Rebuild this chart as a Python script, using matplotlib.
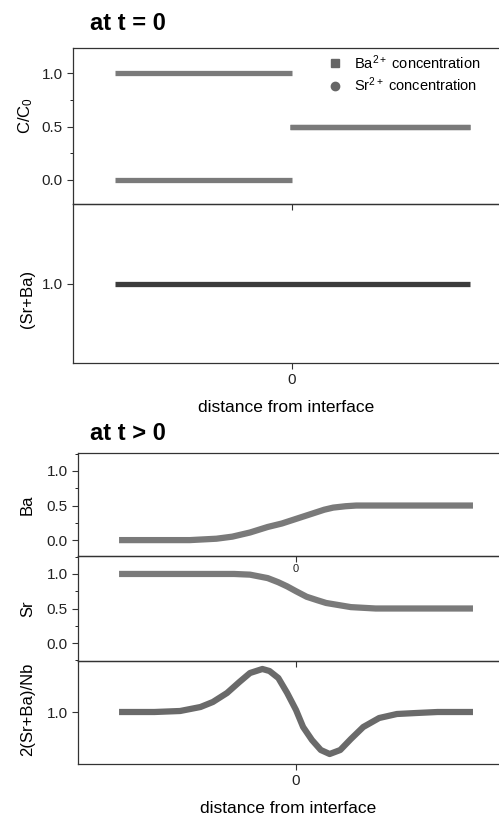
import matplotlib
matplotlib.use("Agg")
import matplotlib.pyplot as plt
from matplotlib.lines import Line2D
from matplotlib.ticker import MultipleLocator

plt.rcParams['font.family'] = ['Liberation Sans', 'DejaVu Sans']
plt.rcParams['mathtext.fontset'] = 'custom'
plt.rcParams['mathtext.rm'] = 'Liberation Sans'
plt.rcParams['mathtext.it'] = 'Liberation Sans:italic'

# at t = 0 : step profiles
x_left = [-1.0, 0.0]
x_right = [-0.01, 1.0]
ba_left = [0.0, 0.0]
ba_right = [0.5, 0.5]
sr_left = [1.0, 1.0]
sr_right = [0.5, 0.5]
x_sum0 = [-1.0, 1.0]
sum0 = [1.0, 1.0]

# at t > 0 : diffused profiles
x_ba = [-1.0, -0.6, -0.45, -0.36, -0.26, -0.16, -0.08, -0.02, 0.04, 0.10, 0.16,
        0.21, 0.28, 0.34, 0.45, 0.6, 1.0]
ba_t = [0.0, 0.0, 0.02, 0.05, 0.11, 0.19, 0.24, 0.29, 0.34, 0.39, 0.44,
        0.47, 0.49, 0.5, 0.5, 0.5, 0.5]

x_sr = [-1.0, -0.6, -0.35, -0.26, -0.16, -0.10, -0.05, 0.0, 0.06, 0.12, 0.17,
        0.24, 0.31, 0.45, 0.6, 1.0]
sr_t = [1.0, 1.0, 1.0, 0.99, 0.94, 0.88, 0.82, 0.75, 0.67, 0.62, 0.58,
        0.55, 0.52, 0.5, 0.5, 0.5]

x_nb = [-1.0, -0.8, -0.655, -0.54, -0.47, -0.39, -0.32, -0.26, -0.19, -0.15,
        -0.10, -0.05, 0.0, 0.04, 0.09, 0.14, 0.19, 0.25, 0.31, 0.38, 0.47,
        0.57, 0.68, 0.8, 1.0]
nb_t = [1.0, 1.0, 1.01, 1.05, 1.10, 1.19, 1.30, 1.39, 1.43, 1.41,
        1.34, 1.19, 1.02, 0.85, 0.72, 0.62, 0.58, 0.62, 0.73, 0.85, 0.94,
        0.98, 0.99, 1.0, 1.0]

W, H = 499, 818
fig = plt.figure(figsize=(W / 100, H / 100), dpi=100)


def make_ax(left, top, bottom):
    ax = fig.add_axes([left / W, 1 - bottom / H, 1 - left / W, (bottom - top) / H])
    ax.spines['right'].set_visible(False)
    for s in ['left', 'top', 'bottom']:
        ax.spines[s].set_linewidth(0.9)
        ax.spines[s].set_color('#333333')
    ax.tick_params(axis='both', labelsize=11, direction='out', length=4, width=0.8,
                   colors='#333333', labelcolor='#222222')
    ax.tick_params(axis='y', which='minor', length=2, width=0.6)
    ax.set_xticks([0])
    ax.set_facecolor('none')
    return ax


grey = '#7a7a7a'
dark = '#3c3c3c'
lab = 12

# panel 1
ax1 = make_ax(73, 48, 204)
ax1.plot(x_left, ba_left, color=grey, lw=3.8, solid_capstyle='butt')
ax1.plot(x_right, ba_right, color=grey, lw=3.8, solid_capstyle='butt')
ax1.plot(x_left, sr_left, color=grey, lw=3.8, solid_capstyle='butt')
ax1.plot(x_right, sr_right, color=grey, lw=3.8, solid_capstyle='butt')
ax1.set_xlim(-1.234, 1.166)
ax1.set_ylim(-0.226, 1.236)
ax1.set_yticks([0.0, 0.5, 1.0])
ax1.yaxis.set_minor_locator(MultipleLocator(0.25))
ax1.set_xticklabels([])
ax1.set_ylabel('C/C$_0$', fontsize=lab)
ax1.yaxis.set_label_coords(-0.089, 0.57)
handles = [Line2D([], [], marker='s', ls='none', color='#666666', ms=6),
           Line2D([], [], marker='o', ls='none', color='#666666', ms=6)]
ax1.legend(handles, ['Ba$^{2+}$ concentration', 'Sr$^{2+}$ concentration'],
           loc='upper left', bbox_to_anchor=(328 / W, 1 - 53 / H),
           bbox_transform=fig.transFigure, frameon=False, fontsize=10.5,
           handletextpad=0.8, labelspacing=0.25, handlelength=1.0,
           borderpad=0, borderaxespad=0)
fig.text(90 / W, 1 - 24 / H, 'at t = 0', fontsize=17, fontweight='bold', va='center', ha='left')

# panel 2
ax2 = make_ax(73, 204, 363)
ax2.plot(x_sum0, sum0, color=dark, lw=3.8, solid_capstyle='butt')
ax2.set_xlim(-1.234, 1.166)
ax2.set_ylim(0.5, 1.5)
ax2.set_yticks([1.0])
ax2.set_yticklabels(['1.0'])
ax2.set_ylabel('(Sr+Ba)', fontsize=lab)
ax2.yaxis.set_label_coords(-0.089, 0.40)
ax2.set_xlabel('distance from interface', fontsize=12.5, labelpad=9)

# panel 3
ax3 = make_ax(78, 453, 556)
ax3.plot(x_ba, ba_t, color=grey, lw=4.5, solid_capstyle='butt', solid_joinstyle='round')
ax3.set_xlim(-1.232, 1.147)
ax3.set_ylim(-0.23, 1.26)
ax3.set_yticks([0.0, 0.5, 1.0])
ax3.yaxis.set_minor_locator(MultipleLocator(0.25))
ax3.tick_params(axis='x', labelsize=8, pad=2)
ax3.set_ylabel('Ba', fontsize=lab)
ax3.yaxis.set_label_coords(-0.102, 0.5)
fig.text(90 / W, 1 - 434 / H, 'at t > 0', fontsize=17, fontweight='bold', va='center', ha='left')

# panel 4
ax4 = make_ax(78, 556, 661)
ax4.plot(x_sr, sr_t, color=grey, lw=4.5, solid_capstyle='butt', solid_joinstyle='round')
ax4.set_xlim(-1.232, 1.147)
ax4.set_ylim(-0.26, 1.26)
ax4.set_yticks([0.0, 0.5, 1.0])
ax4.yaxis.set_minor_locator(MultipleLocator(0.25))
ax4.set_xticklabels([])
ax4.set_ylabel('Sr', fontsize=lab)
ax4.yaxis.set_label_coords(-0.102, 0.5)

# panel 5
ax5 = make_ax(78, 661, 764)
ax5.plot(x_nb, nb_t, color='#6a6a6a', lw=4.5, solid_capstyle='butt', solid_joinstyle='round')
ax5.set_xlim(-1.232, 1.147)
ax5.set_ylim(0.48, 1.51)
ax5.set_yticks([1.0])
ax5.set_yticklabels(['1.0'])
ax5.set_ylabel('2(Sr+Ba)/Nb', fontsize=lab)
ax5.yaxis.set_label_coords(-0.102, 0.53)
ax5.set_xlabel('distance from interface', fontsize=12.5, labelpad=9)

fig.savefig('out.png', dpi=100)
